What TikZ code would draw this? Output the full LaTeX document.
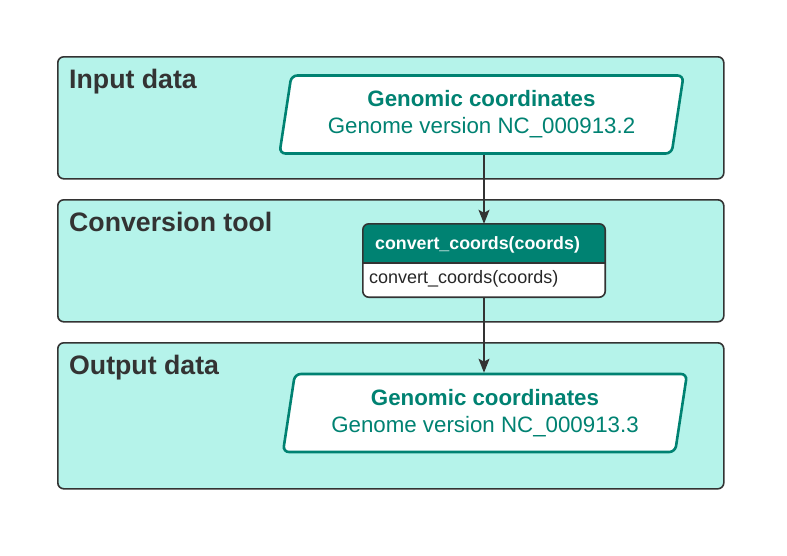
\documentclass[tikz,border=0pt]{standalone}
\usepackage{fontspec}
\setmainfont{Liberation Sans}
\usetikzlibrary{shapes.geometric,arrows.meta}
\definecolor{panelfill}{HTML}{B5F3EA}
\definecolor{tealc}{HTML}{008272}
\definecolor{darkc}{HTML}{333333}
\tikzset{
  panel/.style={draw=darkc, fill=panelfill, line width=1.6pt, rounded corners=6pt,
    minimum width=666pt, anchor=north west, inner sep=0pt},
  paneltitle/.style={anchor=base west, text=darkc, font=\fontsize{26.7}{30}\selectfont\bfseries, inner sep=0pt},
  para/.style={trapezium, trapezium left angle=76, trapezium right angle=104,
    trapezium stretches body, draw=tealc, fill=white, line width=2.6pt, rounded corners=6pt,
    minimum width=404pt, minimum height=78pt, text=tealc, align=center,
    font=\fontsize{22.3}{27}\selectfont, inner sep=0pt},
  clsbox/.style={rectangle, minimum width=242pt, minimum height=73pt, inner sep=0pt},
  conn/.style={draw=darkc, line width=1.6pt, -{Stealth[length=14pt,width=11pt,inset=3pt]}}
}
\begin{document}
\begin{tikzpicture}[x=1pt,y=-1pt]
\useasboundingbox (0,0) rectangle (787,555);
% panels
\node[panel, minimum height=122pt] (p1) at (57,56) {};
\node[panel, minimum height=122pt] (p2) at (57,199) {};
\node[panel, minimum height=146pt] (p3) at (57,342) {};
\node[paneltitle] (t1) at (69,88) {Input data};
\node[paneltitle] (t2) at (69,231) {Conversion tool};
\node[paneltitle] (t3) at (69,374) {Output data};
% parallelograms
\node[para] (in) at (481.5,114.5) {{\fontsize{22.3}{27}\selectfont\bfseries Genomic coordinates}\\Genome version NC\_000913.2};
\node[para] (out) at (485,413) {{\fontsize{22.3}{27}\selectfont\bfseries Genomic coordinates}\\Genome version NC\_000913.3};
% class box
\node[clsbox] (cls) at (484,260.5) {};
\begin{scope}
\clip[rounded corners=6pt] (cls.south west) rectangle (cls.north east);
\fill[white] (cls.south west) rectangle (cls.north east);
\fill[tealc] (cls.north west) rectangle (cls.east |- 0,263);
\end{scope}
\draw[darkc, line width=1.6pt] (cls.west |- 0,263) -- (cls.east |- 0,263);
\draw[darkc, line width=1.6pt, rounded corners=6pt] (cls.south west) rectangle (cls.north east);
\node[anchor=base west, inner sep=0pt, text=white, font=\fontsize{17.8}{20}\selectfont\bfseries] (hdr) at (375,249) {convert\_coords(coords)};
\node[anchor=base west, inner sep=0pt, text=black!85, font=\fontsize{18}{20}\selectfont] (body) at (369,283) {convert\_coords(coords)};
% connectors
\draw[conn] (in.south -| cls.north) -- (cls.north);
\draw[conn] (cls.south) -- (out.north -| cls.south);
\end{tikzpicture}
\end{document}
